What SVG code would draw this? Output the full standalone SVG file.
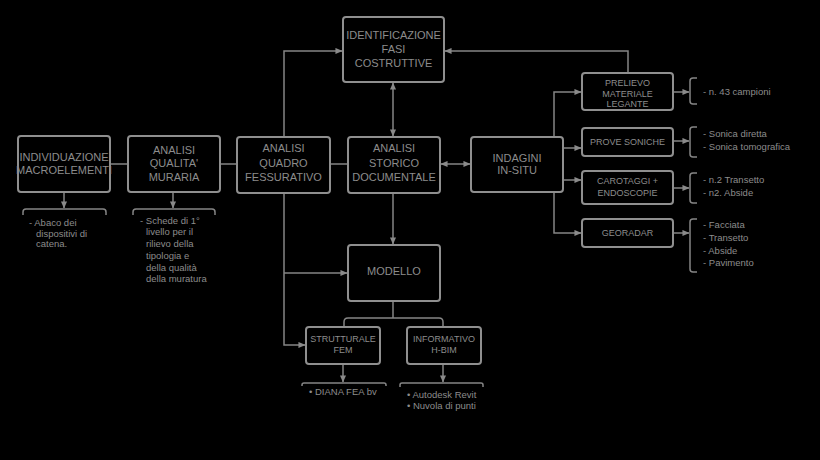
<svg xmlns="http://www.w3.org/2000/svg" width="820" height="460" viewBox="0 0 820 460">
<defs>
<marker id="ah" viewBox="0 0 8 8" refX="7.5" refY="4" markerWidth="7" markerHeight="7" markerUnits="userSpaceOnUse" orient="auto-start-reverse">
<path d="M0,0.5 L8,4 L0,7.5 Z" fill="#8a8a8a"/>
</marker>
<style>
.bx{fill:#000;stroke:#8f8f8f;stroke-width:2}
.ln{fill:none;stroke:#858585;stroke-width:1.5}
.t{font-family:"Liberation Sans",Arial,sans-serif;font-size:11px;fill:#8c8c8c;text-anchor:middle}
.s{font-family:"Liberation Sans",Arial,sans-serif;font-size:9px;fill:#8c8c8c;text-anchor:middle}
.l{font-family:"Liberation Sans",Arial,sans-serif;font-size:9.5px;fill:#8c8c8c}
</style>
</defs>
<rect width="820" height="460" fill="#000"/>

<g id="connectors">
<line class="ln" x1="110" y1="164" x2="128" y2="164"/>
<line class="ln" x1="220" y1="164" x2="237" y2="164"/>
<line class="ln" x1="330" y1="164" x2="348" y2="164"/>
<path class="ln" d="M284,137 L284,51 L342,51" marker-end="url(#ah)"/>
<line class="ln" x1="393" y1="83" x2="393" y2="136" marker-start="url(#ah)" marker-end="url(#ah)"/>
<line class="ln" x1="441" y1="164" x2="470" y2="164" marker-start="url(#ah)" marker-end="url(#ah)"/>
<path class="ln" d="M628,73 L628,51 L445,51" marker-end="url(#ah)"/>
<path class="ln" d="M554,137 L554,92 L581,92" marker-end="url(#ah)"/>
<line class="ln" x1="563" y1="148" x2="581" y2="148" marker-end="url(#ah)"/>
<line class="ln" x1="563" y1="180" x2="581" y2="180" marker-end="url(#ah)"/>
<path class="ln" d="M554,192 L554,233 L581,233" marker-end="url(#ah)"/>
<line class="ln" x1="673" y1="92" x2="689" y2="92" marker-end="url(#ah)"/>
<line class="ln" x1="673" y1="141" x2="689" y2="141" marker-end="url(#ah)"/>
<line class="ln" x1="673" y1="188" x2="689" y2="188" marker-end="url(#ah)"/>
<line class="ln" x1="673" y1="233" x2="689" y2="233" marker-end="url(#ah)"/>
<line class="ln" x1="64" y1="192" x2="64" y2="208" marker-end="url(#ah)"/>
<line class="ln" x1="173" y1="192" x2="173" y2="208" marker-end="url(#ah)"/>
<line class="ln" x1="393" y1="193" x2="393" y2="244" marker-end="url(#ah)"/>
<path class="ln" d="M284,193 L284,345 L305,345" marker-end="url(#ah)"/>
<line class="ln" x1="284" y1="273" x2="347" y2="273" marker-end="url(#ah)"/>
<path class="ln" d="M393,301 L393,318"/>
<path class="ln" d="M344,327 L344,322 Q344,318 348,318 L439,318 Q443,318 443,322 L443,327"/>
<line class="ln" x1="343" y1="364" x2="343" y2="382" marker-end="url(#ah)"/>
<line class="ln" x1="443" y1="364" x2="443" y2="382" marker-end="url(#ah)"/>
</g>

<g id="brackets">
<path class="ln" d="M23,215 L23,212 Q23,209 26,209 L103,209 Q106,209 106,212 L106,215"/>
<path class="ln" d="M133,215 L133,212 Q133,209 136,209 L212,209 Q215,209 215,212 L215,215"/>
<path class="ln" d="M302,386 L302,385 Q302,383 304,383 L384,383 Q386,383 386,385 L386,386"/>
<path class="ln" d="M400,387 L400,385 Q400,383 402,383 L481,383 Q483,383 483,385 L483,387"/>
<path class="ln" d="M697,78 L693,78 Q690,78 690,81 L690,101 Q690,104 693,104 L697,104"/>
<path class="ln" d="M697,127 L693,127 Q690,127 690,130 L690,154 Q690,157 693,157 L697,157"/>
<path class="ln" d="M697,173 L693,173 Q690,173 690,176 L690,200 Q690,203 693,203 L697,203"/>
<path class="ln" d="M697,219 L693,219 Q690,219 690,222 L690,269 Q690,272 693,272 L697,272"/>
</g>

<g id="n-individuazione">
<rect class="bx" x="18" y="136" width="92" height="56" rx="3"/>
<text class="t" x="64" y="161">INDIVIDUAZIONE</text>
<text class="t" x="64" y="174">MACROELEMENTI</text>
</g>
<g id="n-qualita">
<rect class="bx" x="128" y="136" width="92" height="56" rx="3"/>
<text class="t" x="174" y="154">ANALISI</text>
<text class="t" x="174" y="167">QUALITA'</text>
<text class="t" x="174" y="181">MURARIA</text>
</g>
<g id="n-quadro">
<rect class="bx" x="237" y="137" width="93" height="56" rx="3"/>
<text class="t" x="283.5" y="152">ANALISI</text>
<text class="t" x="283.5" y="167">QUADRO</text>
<text class="t" x="283.5" y="181">FESSURATIVO</text>
</g>
<g id="n-storico">
<rect class="bx" x="348" y="137" width="92" height="56" rx="3"/>
<text class="t" x="394" y="152">ANALISI</text>
<text class="t" x="394" y="167">STORICO</text>
<text class="t" x="394" y="181">DOCUMENTALE</text>
</g>
<g id="n-identificazione">
<rect class="bx" x="343" y="17" width="101" height="65" rx="3"/>
<text class="t" x="393.5" y="39">IDENTIFICAZIONE</text>
<text class="t" x="393.5" y="53">FASI</text>
<text class="t" x="393.5" y="67">COSTRUTTIVE</text>
</g>
<g id="n-indagini">
<rect class="bx" x="471" y="137" width="92" height="55" rx="3"/>
<text class="t" x="517" y="162">INDAGINI</text>
<text class="t" x="517" y="174">IN-SITU</text>
</g>
<g id="n-prelievo">
<rect class="bx" x="582" y="73" width="91" height="37" rx="3"/>
<text class="s" x="627.5" y="86">PRELIEVO</text>
<text class="s" x="627.5" y="96.5">MATERIALE</text>
<text class="s" x="627.5" y="107">LEGANTE</text>
</g>
<g id="n-prove">
<rect class="bx" x="582" y="128" width="91" height="28" rx="3"/>
<text class="s" x="627.5" y="145">PROVE SONICHE</text>
</g>
<g id="n-carotaggi">
<rect class="bx" x="582" y="171" width="91" height="33" rx="3"/>
<text class="s" x="627.5" y="184">CAROTAGGI +</text>
<text class="s" x="627.5" y="196">ENDOSCOPIE</text>
</g>
<g id="n-georadar">
<rect class="bx" x="582" y="219" width="91" height="28" rx="3"/>
<text class="s" x="627.5" y="236">GEORADAR</text>
</g>
<g id="n-modello">
<rect class="bx" x="348" y="245" width="92" height="56" rx="3"/>
<text class="t" x="394" y="275">MODELLO</text>
</g>
<g id="n-strutturale">
<rect class="bx" x="306" y="327" width="74" height="37" rx="3"/>
<text class="s" x="343" y="342">STRUTTURALE</text>
<text class="s" x="343" y="353">FEM</text>
</g>
<g id="n-informativo">
<rect class="bx" x="407" y="327" width="74" height="37" rx="3"/>
<text class="s" x="444" y="342">INFORMATIVO</text>
<text class="s" x="444" y="353">H-BIM</text>
</g>

<g id="lists">
<text class="l" x="29" y="226">- Abaco dei</text>
<text class="l" x="36" y="236.5">dispositivi di</text>
<text class="l" x="36" y="247">catena.</text>
<text class="l" x="140" y="223.5">- Schede di 1°</text>
<text class="l" x="146" y="235">livello per il</text>
<text class="l" x="146" y="247">rilievo della</text>
<text class="l" x="146" y="258.5">tipologia e</text>
<text class="l" x="146" y="270.5">della qualità</text>
<text class="l" x="146" y="282">della muratura</text>
<text class="l" x="703" y="95">- n. 43 campioni</text>
<text class="l" x="703" y="137">- Sonica diretta</text>
<text class="l" x="703" y="150">- Sonica tomografica</text>
<text class="l" x="703" y="183">- n.2 Transetto</text>
<text class="l" x="703" y="196">- n2. Abside</text>
<text class="l" x="703" y="228">- Facciata</text>
<text class="l" x="703" y="241">- Transetto</text>
<text class="l" x="703" y="254">- Abside</text>
<text class="l" x="703" y="266">- Pavimento</text>
<text class="l" x="309" y="395">• DIANA FEA bv</text>
<text class="l" x="407" y="397.5">• Autodesk Revit</text>
<text class="l" x="407" y="409">• Nuvola di punti</text>
</g>
</svg>
